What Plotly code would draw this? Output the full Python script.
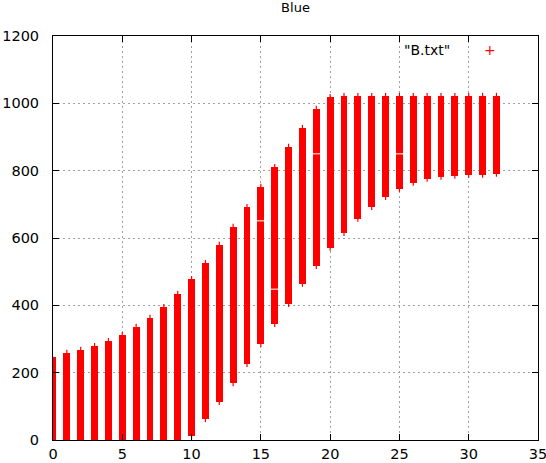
import plotly.graph_objects as go

# Data
xs = list(range(33))
box_lo = [0, 0, 0, 0, 0, 0, 0, 0, 0, 0, 12, 62, 113, 169, 226, 285, 345, 404, 464, 517,
          571, 615, 657, 692, 722, 746, 764, 776, 782, 785, 788, 788, 791]
box_hi = [247, 259, 268, 279, 294, 312, 336, 363, 395, 434, 478, 526, 580, 633, 692, 752,
          811, 871, 927, 984, 1019, 1022, 1022, 1022, 1022, 1022, 1022, 1022, 1022, 1022,
          1022, 1022, 1022]
low = [-9, -9, -9, -9, -9, -9, -9, -9, -9, -9, 3, 53, 104, 160, 217, 276, 336, 395, 455, 508,
       562, 606, 648, 683, 713, 737, 755, 767, 773, 776, 779, 779, 782]
high = [247, 268, 277, 288, 303, 321, 345, 372, 404, 443, 487, 535, 589, 642, 701, 761,
        820, 880, 936, 993, 1028, 1031, 1031, 1031, 1031, 1031, 1031, 1031, 1031, 1031,
        1031, 1031, 1031]
split_x = [15, 16, 19, 25]
split_y = [651, 448, 850, 850]

RED = "#ff0000"
FONT = "DejaVu Sans"

fig = go.Figure()

# whiskers
wx, wy = [], []
for x, lo, hi in zip(xs, low, high):
    wx += [x, x, None]
    wy += [lo, hi, None]
fig.add_trace(go.Scatter(x=wx, y=wy, mode="lines", line=dict(color=RED, width=1.2),
                         showlegend=False, hoverinfo="skip"))

# boxes
fig.add_trace(go.Bar(x=xs, y=[h - l for h, l in zip(box_hi, box_lo)], base=box_lo,
                     width=0.5, marker=dict(color=RED, line=dict(width=0)),
                     showlegend=False))

# white split marks
fig.add_trace(go.Scatter(x=split_x, y=split_y, mode="markers",
                         marker=dict(symbol="line-ew", size=7,
                                     line=dict(color="white", width=1)),
                         showlegend=False, hoverinfo="skip"))

axis_common = dict(
    showline=True, linecolor="black", linewidth=1, mirror="allticks",
    ticks="inside", ticklen=6, tickcolor="black", tickwidth=1,
    showgrid=True, gridcolor="#a0a0a0", gridwidth=1, griddash="2px,3px",
    zeroline=False, automargin=False, ticklabeloverflow="allow",
    tickfont=dict(family=FONT, size=14.5, color="black"),
)

fig.update_xaxes(range=[0, 35], tickmode="linear", tick0=0, dtick=5,
                 ticklabelstandoff=1, **axis_common)
fig.update_yaxes(range=[0, 1200], tickmode="linear", tick0=0, dtick=200,
                 ticklabelstandoff=10, **axis_common)

fig.update_layout(
    width=546, height=463,
    margin=dict(l=53, r=8, t=36, b=23, autoexpand=False),
    plot_bgcolor="white", paper_bgcolor="white",
    bargap=0,
    title=dict(text="Blue", x=0.5, xref="paper", y=1 - 7.5 / 463, yanchor="middle",
               font=dict(family=FONT, size=13, color="black")),
    annotations=[
        dict(text='"B.txt"', x=0.823, y=0.965, xref="paper", yref="paper",
             xanchor="right", yanchor="middle", showarrow=False,
             font=dict(family=FONT, size=14, color="black")),
        dict(text="+", x=0.901, y=0.965, xref="paper", yref="paper",
             xanchor="center", yanchor="middle", showarrow=False,
             font=dict(family=FONT, size=14, color=RED)),
    ],
    showlegend=False,
)

fig.write_html("out.html", config={"displayModeBar": False},
               post_script="document.body.style.margin='0';document.body.style.overflow='hidden';")
